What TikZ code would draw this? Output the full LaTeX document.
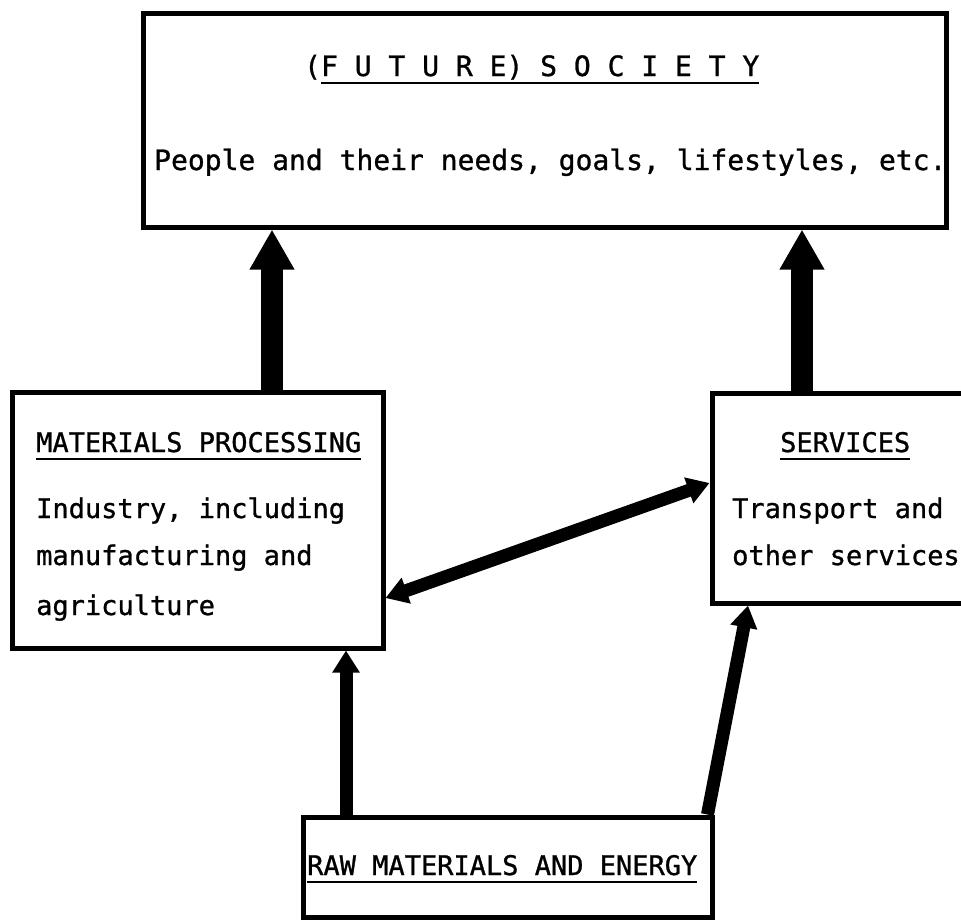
\documentclass[tikz,border=0pt]{standalone}
\usepackage{fontspec}
\setmainfont[FakeBold=1]{DejaVu Sans Mono}
\usepackage{tikz}
\usetikzlibrary{arrows.meta}

\newcommand{\hd}[1]{\setbox0=\hbox{#1}\rlap{\rule[-8pt]{\wd0}{2.5pt}}\box0}

\tikzstyle{box} = [rectangle, draw, line width=5pt, inner sep=0pt]
\tikzstyle{txt} = [anchor=base west, inner sep=0pt, font=\fontsize{27}{48}\selectfont]
\tikzstyle{bigtxt} = [txt, font=\fontsize{28}{48}\selectfont]
\tikzstyle{bigflow} = [line width=22pt, -{Triangle[length=40pt, width=42pt]}]
\tikzstyle{flow} = [line width=13pt, ->, >={Triangle[length=22pt, width=26pt]}]

\begin{document}
\begin{tikzpicture}[x=1pt, y=-1pt]
    \useasboundingbox (0, 0) rectangle (961, 919);
    \clip (0, 0) rectangle (961, 919);

    % Boxes
    \node[box, minimum width=803pt, minimum height=214pt] (society) at (544.5, 120) {};
    \node[box, minimum width=371pt, minimum height=256pt] (mp) at (197.5, 520) {};
    \node[box, minimum width=263pt, minimum height=210pt] (serv) at (843.5, 498) {};
    \node[box, minimum width=409pt, minimum height=100pt] (raw) at (507.5, 867) {};

    % Texts
    \node[bigtxt] (title) at (304, 76) {(\hd{F U T U R E) S O C I E T Y}};
    \node[bigtxt] (people) at (154, 170) {People and their needs, goals, lifestyles, etc.};
    \node[txt] (mptitle) at (36, 452) {\hd{MATERIALS PROCESSING}};
    \node[txt] (mp1) at (36, 518) {Industry, including};
    \node[txt] (mp2) at (36, 565) {manufacturing and};
    \node[txt] (mp3) at (36, 615) {agriculture};
    \node[txt] (servtitle) at (780, 452) {\hd{SERVICES}};
    \node[txt] (serv1) at (732, 518) {Transport and};
    \node[txt] (serv2) at (732, 565) {other services};
    \node[txt] (rawtitle) at (307, 875) {\hd{RAW MATERIALS AND ENERGY}};

    % Arrows
    \draw[bigflow] ([xshift=74.5pt]mp.north) -- ([xshift=74.5pt]mp.north |- society.south);
    \draw[bigflow] ([xshift=-41.5pt]serv.north) -- ([xshift=-41.5pt]serv.north |- society.south);
    \draw[flow] ([xshift=-161.5pt]raw.north) -- ([xshift=-161.5pt]raw.north |- mp.south);
    \draw[flow] ([xshift=-7pt]raw.north east) -- ([xshift=-95.5pt]serv.south);
    \draw[flow, <->] ([yshift=-78pt]mp.east) -- ([yshift=15pt]serv.west);
\end{tikzpicture}
\end{document}
